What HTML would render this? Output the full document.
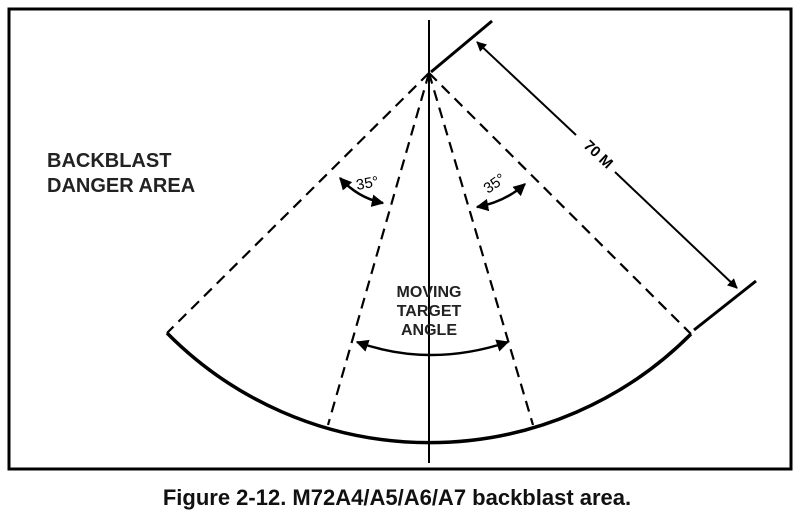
<!DOCTYPE html>
<html><head><style>body{margin:0;background:#fff}svg{display:block}</style></head><body>
<svg width="800" height="518" viewBox="0 0 800 518" xmlns="http://www.w3.org/2000/svg" font-family="Liberation Sans, sans-serif" font-weight="bold">
<defs><marker id="a" viewBox="0 0 10 10" refX="9" refY="5" markerWidth="5" markerHeight="5" orient="auto-start-reverse"><path d="M0,0 L10,5 L0,10 z" fill="#000"/></marker></defs>
<rect x="9" y="9" width="782" height="460" fill="none" stroke="#000" stroke-width="3"/>
<line x1="429" y1="20" x2="429" y2="463" stroke="#000" stroke-width="2"/>
<g stroke="#000" stroke-width="2.2" stroke-dasharray="11,7" fill="none">
<line x1="429" y1="73" x2="167" y2="333"/>
<line x1="429" y1="73" x2="691" y2="334"/>
<line x1="429" y1="73" x2="328" y2="425"/>
<line x1="429" y1="73" x2="533" y2="425"/>
</g>
<path d="M167,333 A369,369 0 0 0 691,334" fill="none" stroke="#000" stroke-width="3.5"/>
<line x1="431" y1="72" x2="492" y2="21" stroke="#000" stroke-width="3"/>
<line x1="694" y1="330" x2="756" y2="281" stroke="#000" stroke-width="3"/>
<line x1="477" y1="42" x2="576" y2="135" stroke="#000" stroke-width="2" marker-start="url(#a)"/>
<line x1="615" y1="172" x2="737" y2="288" stroke="#000" stroke-width="2" marker-end="url(#a)"/>
<text x="595" y="158" font-size="15" text-anchor="middle" transform="rotate(43 595 158)">70 M</text>
<path d="M340,178 Q358,198 383,203" fill="none" stroke="#000" stroke-width="2.5" marker-start="url(#a)" marker-end="url(#a)"/>
<path d="M477,207 Q505,202 525,184" fill="none" stroke="#000" stroke-width="2.5" marker-start="url(#a)" marker-end="url(#a)"/>
<text x="357" y="190" font-size="15" font-weight="normal" transform="rotate(-10 357 190)">35°</text>
<text x="488" y="194" font-size="15" font-weight="normal" transform="rotate(-35 488 194)">35°</text>
<path d="M357,342 Q430,368 508,342" fill="none" stroke="#000" stroke-width="2.5" marker-start="url(#a)" marker-end="url(#a)"/>
<g font-size="16" text-anchor="middle" fill="#222">
<text x="429" y="297">MOVING</text><text x="429" y="316">TARGET</text><text x="429" y="335">ANGLE</text>
</g>
<text x="47" y="167" font-size="20" fill="#222">BACKBLAST</text>
<text x="47" y="192" font-size="20" fill="#222">DANGER AREA</text>
<text x="397" y="505" font-size="22" text-anchor="middle" fill="#111">Figure 2-12. M72A4/A5/A6/A7 backblast area.</text>
</svg>
</body></html>
